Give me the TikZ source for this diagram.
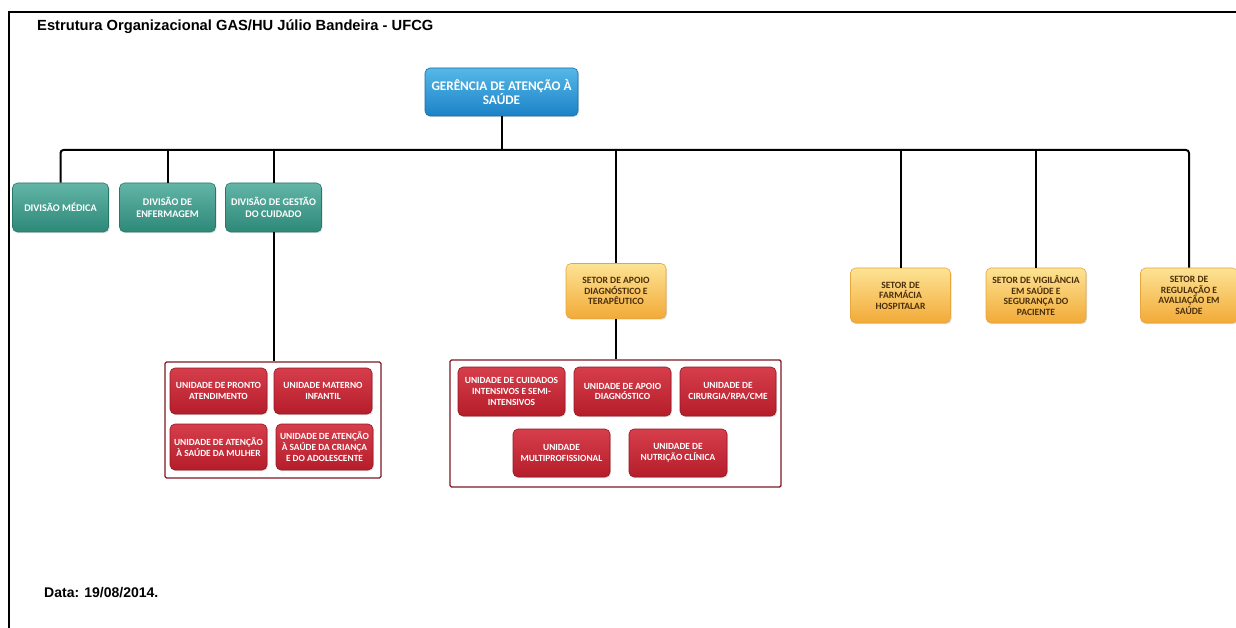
\documentclass[tikz,border=0pt]{standalone}
\usepackage{fontspec}
\setmainfont{Liberation Sans}
\newfontfamily\boxfont{Carlito}
\usetikzlibrary{shadows}
\definecolor{blueT}{HTML}{55B8E8}
\definecolor{blueB}{HTML}{1C82C6}
\definecolor{blueD}{HTML}{1A6DA6}
\definecolor{tealT}{HTML}{62B5A7}
\definecolor{tealB}{HTML}{2D8878}
\definecolor{tealD}{HTML}{26786A}
\definecolor{yelT}{HTML}{FDE394}
\definecolor{yelB}{HTML}{F2AA38}
\definecolor{yelD}{HTML}{E8A63E}
\definecolor{redT}{HTML}{D63E4C}
\definecolor{redB}{HTML}{B61D2B}
\definecolor{redD}{HTML}{951823}
\definecolor{frameR}{HTML}{7E1A22}
\definecolor{txtY}{HTML}{4A2E0A}
\tikzset{
  box/.style={rounded corners=5pt, align=center, inner sep=0pt, line width=0.6pt,
    font=\boxfont\bfseries\fontsize{10.2}{11.5}\selectfont,
    drop shadow={opacity=0.25, shadow xshift=1pt, shadow yshift=-1.2pt}},
  bluebox/.style={box, top color=blueT, bottom color=blueB, draw=blueD, text=white,
    minimum width=153pt, minimum height=48pt, font=\boxfont\bfseries\fontsize{13.2}{14.5}\selectfont},
  tealbox/.style={box, top color=tealT, bottom color=tealB, draw=tealD, text=white,
    minimum width=96pt, minimum height=49pt},
  yelbox/.style={box, top color=yelT, bottom color=yelB, draw=yelD, text=txtY,
    minimum width=100pt, minimum height=55pt, font=\boxfont\bfseries\fontsize{9.6}{10.6}\selectfont},
  redbox/.style={box, top color=redT, bottom color=redB, draw=redD, text=white,
    minimum width=97pt, minimum height=46pt, font=\boxfont\bfseries\fontsize{9.4}{10.8}\selectfont},
  grp/.style={draw=frameR, line width=1.4pt, rounded corners=1.5pt},
  conn/.style={draw=black, line width=2pt},
  lbl/.style={font=\bfseries\fontsize{14.7}{16}\selectfont, inner sep=0pt, anchor=west},
}
\begin{document}
\begin{tikzpicture}[x=1pt,y=-1pt]
\useasboundingbox[fill=white] (0,0) rectangle (1236,628);
% frame
\draw[line width=1.8pt] (9,628) -- (9,12) -- (1236,12);
\node[lbl] (title) at (37,27) {Estrutura Organizacional GAS/HU Júlio Bandeira - UFCG};
\node[lbl, font=\bfseries\fontsize{14}{15}\selectfont] (data) at (44,593) {Data: 19/08/2014.};

% top
\node[bluebox] (ger) at (501.5,92) {GERÊNCIA DE ATENÇÃO À\\SAÚDE};
\coordinate (bus) at (0,150);

% divisions
\node[tealbox] (dm) at (60.5,207.5) {DIVISÃO MÉDICA};
\node[tealbox] (de) at (167.5,207.5) {DIVISÃO DE\\ENFERMAGEM};
\node[tealbox] (dg) at (273.5,207.5) {DIVISÃO DE GESTÃO\\DO CUIDADO};

% sectors
\node[yelbox] (sa) at (616,291) {SETOR DE APOIO\\DIAGNÓSTICO E\\TERAPÊUTICO};
\node[yelbox] (sf) at (900.5,295.5) {SETOR DE\\FARMÁCIA\\HOSPITALAR};
\node[yelbox] (sv) at (1036,295.5) {SETOR DE VIGILÂNCIA\\EM SAÚDE E\\SEGURANÇA DO\\PACIENTE};
\node[yelbox, minimum width=97pt] (sr) at (1189,295.5) {SETOR DE\\REGULAÇÃO E\\AVALIAÇÃO EM\\SAÚDE};

% group 1
\node[grp, minimum width=216pt, minimum height=116pt, inner sep=0pt] (g1) at (273,420) {};
\node[redbox] (u1) at (218.5,391) {UNIDADE DE PRONTO\\ATENDIMENTO};
\node[redbox, minimum width=98pt] (u2) at (323,391) {UNIDADE MATERNO\\INFANTIL};
\node[redbox] (u3) at (218.5,447) {UNIDADE DE ATENÇÃO\\À SAÚDE DA MULHER};
\node[redbox] (u4) at (324.5,447) {UNIDADE DE ATENÇÃO\\À SAÚDE DA CRIANÇA\\E DO ADOLESCENTE};

% group 2
\node[grp, minimum width=331pt, minimum height=127pt, inner sep=0pt] (g2) at (615.5,423.5) {};
\node[redbox, minimum width=107pt, minimum height=49pt] (v1) at (511.5,391.5) {UNIDADE DE CUIDADOS\\INTENSIVOS E SEMI-\\INTENSIVOS};
\node[redbox, minimum height=49pt] (v2) at (622.5,391.5) {UNIDADE DE APOIO\\DIAGNÓSTICO};
\node[redbox, minimum width=96pt, minimum height=49pt] (v3) at (728,391.5) {UNIDADE DE\\CIRURGIA/RPA/CME};
\node[redbox, minimum height=48pt] (v4) at (561.5,453) {UNIDADE\\MULTIPROFISSIONAL};
\node[redbox, minimum width=98pt, minimum height=48pt] (v5) at (678,453) {UNIDADE DE\\NUTRIÇÃO CLÍNICA};

% connectors
\draw[conn] (ger.south) -- (ger.south |- bus);
\draw[conn, rounded corners=3pt] (dm.north) -- (dm.north |- bus) -- (sr.north |- bus) -- (sr.north);
\draw[conn] (de.north |- bus) -- (de.north);
\draw[conn] (dg.north |- bus) -- (dg.north);
\draw[conn] (sa.north |- bus) -- (sa.north);
\draw[conn] (sf.north |- bus) -- (sf.north);
\draw[conn] (sv.north |- bus) -- (sv.north);
\draw[conn] (dg.south) -- (dg.south |- g1.north);
\draw[conn] (sa.south) -- (sa.south |- g2.north);
\end{tikzpicture}
\end{document}
